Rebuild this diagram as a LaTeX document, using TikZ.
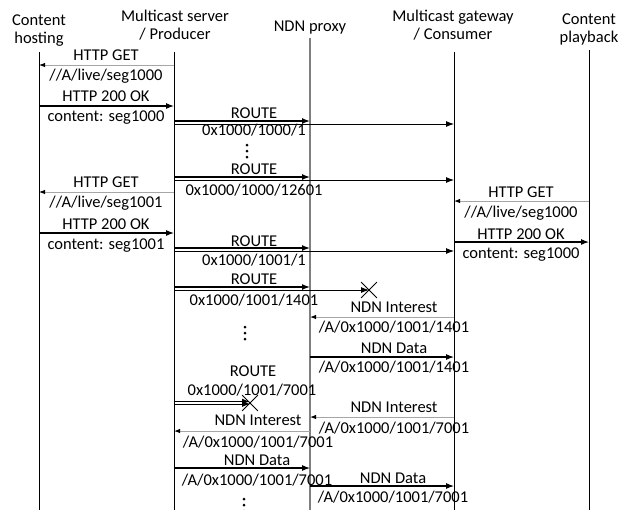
\documentclass[tikz,border=0pt]{standalone}
\usepackage{fontspec}
\setmainfont{Carlito}
\usetikzlibrary{arrows.meta,shapes.misc}
\definecolor{LineGray}{HTML}{A6A6A6}
\definecolor{ProxyGray}{HTML}{7F7F7F}

\tikzset{
  head/.style={align=center, inner sep=0pt, anchor=base, font=\fontsize{16.5}{18}\selectfont},
  lbl/.style={anchor=base, inner sep=0pt, font=\fontsize{16.5}{18}\selectfont},
  life/.style={draw=black, line width=0.9pt},
  req/.style={draw=LineGray, line width=1pt, -{Latex[length=6pt,width=4.5pt,color=black]}},
  resp/.style={draw=black, line width=1.1pt, -{Latex[length=8pt,width=6pt]}},
  route/.style={draw=black, line width=1.4pt, -{Latex[length=8pt,width=6pt]}},
  fwd/.style={draw=black, line width=0.9pt, -{Latex[length=8pt,width=6pt]}},
  lost/.style={cross out, draw=black, line width=0.8pt, minimum size=15pt, inner sep=0pt},
}

\begin{document}
\begin{tikzpicture}[x=1pt,y=-1pt]
    \useasboundingbox (0,0) rectangle (628,509);

    % lifelines
    \node[head] (chT) at (39,43) {Content\\hosting};
    \node[head] (msT) at (175,39) {Multicast server\\/ Producer};
    \node[head] (pxT) at (310,31) {NDN proxy};
    \node[head] (gwT) at (453,39) {Multicast gateway\\/ Consumer};
    \node[head] (pbT) at (589,42) {Content\\playback};

    \coordinate (ch) at (39,52);  \coordinate (chE) at (39,512);
    \coordinate (ms) at (174,52); \coordinate (msE) at (174,512);
    \coordinate (px) at (310,38); \coordinate (pxE) at (310,512);
    \coordinate (gw) at (454,52); \coordinate (gwE) at (454,512);
    \coordinate (pb) at (589,50); \coordinate (pbE) at (589,512);

    \draw[life] (ch) -- (chE);
    \draw[life] (ms) -- (msE);
    \draw[draw=ProxyGray,line width=1.4pt] (px) -- (pxE);
    \draw[life] (gw) -- (gwE);
    \draw[life] (pb) -- (pbE);

    % segment 1000
    \draw[req] (ms |- 0,65) -- (ch |- 0,65);
    \node[lbl] (m1t) at (106,60) {HTTP GET};
    \node[lbl] (m1b) at (106,80) {//A/live/seg1000};

    \draw[resp] (ch |- 0,106) -- (ms |- 0,106);
    \node[lbl] (m2t) at (106,101) {HTTP 200 OK};
    \node[lbl] (m2b) at (106,121) {content: seg1000};

    \draw[route] (ms |- 0,121) -- (px |- 0,121);
    \draw[fwd] (ms |- 0,124) -- (gw |- 0,124);
    \node[lbl] (m3t) at (254,118) {ROUTE};
    \node[lbl] (m3b) at (254,135) {0x1000/1000/1};

    \fill (247,145) circle (1.5) (247,151) circle (1.5) (247,157) circle (1.5);

    \draw[route] (ms |- 0,177) -- (px |- 0,177);
    \draw[fwd] (ms |- 0,180) -- (gw |- 0,180);
    \node[lbl] (m4t) at (254,174) {ROUTE};
    \node[lbl] (m4b) at (254,195) {0x1000/1000/12601};

    % segment 1001
    \draw[req] (ms |- 0,192) -- (ch |- 0,192);
    \node[lbl] (m5t) at (106,187) {HTTP GET};
    \node[lbl] (m5b) at (106,207) {//A/live/seg1001};

    \draw[req] (pb |- 0,201) -- (gw |- 0,201);
    \node[lbl] (m6t) at (521,197) {HTTP GET};
    \node[lbl] (m6b) at (521,217) {//A/live/seg1000};

    \draw[resp] (ch |- 0,233) -- (ms |- 0,233);
    \node[lbl] (m7t) at (106,229) {HTTP 200 OK};
    \node[lbl] (m7b) at (106,249) {content: seg1001};

    \draw[resp] (gw |- 0,242) -- (pb |- 0,242);
    \node[lbl] (m8t) at (521,239) {HTTP 200 OK};
    \node[lbl] (m8b) at (521,258) {content: seg1000};

    \draw[route] (ms |- 0,248) -- (px |- 0,248);
    \draw[fwd] (ms |- 0,251) -- (gw |- 0,251);
    \node[lbl] (m9t) at (254,246) {ROUTE};
    \node[lbl] (m9b) at (254,265) {0x1000/1001/1};

    \node[lost] (x1) at (369,290) {};
    \draw[route] (ms |- 0,287) -- (px |- 0,287);
    \draw[fwd] (ms |- x1) -- (x1.center);
    \node[lbl] (m10t) at (254,284) {ROUTE};
    \node[lbl] (m10b) at (254,305) {0x1000/1001/1401};

    \draw[req] (gw |- 0,317) -- (px |- 0,317);
    \node[lbl] (m11t) at (394,312) {NDN Interest};
    \node[lbl] (m11b) at (394,332) {/A/0x1000/1001/1401};

    \fill (245,327) circle (1.5) (245,333) circle (1.5) (245,339) circle (1.5);

    \draw[resp] (px |- 0,357) -- (gw |- 0,357);
    \node[lbl] (m12t) at (394,353) {NDN Data};
    \node[lbl] (m12b) at (394,372) {/A/0x1000/1001/1401};

    \node[lbl] (m13t) at (253,376) {ROUTE};
    \node[lbl] (m13b) at (252,395) {0x1000/1001/7001};
    \node[lost] (x2) at (250,403) {};
    \draw[route] (ms |- 0,401.5) -- (x2.center |- 0,401.5);
    \draw[fwd] (ms |- 0,404) -- (x2.center |- 0,404);

    \draw[req] (gw |- 0,417) -- (px |- 0,417);
    \node[lbl] (m14t) at (394,412) {NDN Interest};
    \node[lbl] (m14b) at (394,433) {/A/0x1000/1001/7001};

    \draw[req] (px |- 0,431) -- (ms |- 0,431);
    \node[lbl] (m15t) at (258,425) {NDN Interest};
    \node[lbl] (m15b) at (258,447) {/A/0x1000/1001/7001};

    \draw[resp] (ms |- 0,468) -- (px |- 0,468);
    \node[lbl] (m16t) at (257,465) {NDN Data};
    \node[lbl] (m16b) at (257,485) {/A/0x1000/1001/7001};

    \draw[resp] (px |- 0,486) -- (gw |- 0,486);
    \node[lbl] (m17t) at (393,483) {NDN Data};
    \node[lbl] (m17b) at (393,502) {/A/0x1000/1001/7001};

    \fill (244,499) circle (1.5) (244,505) circle (1.5) (244,511) circle (1.5);
\end{tikzpicture}
\end{document}
